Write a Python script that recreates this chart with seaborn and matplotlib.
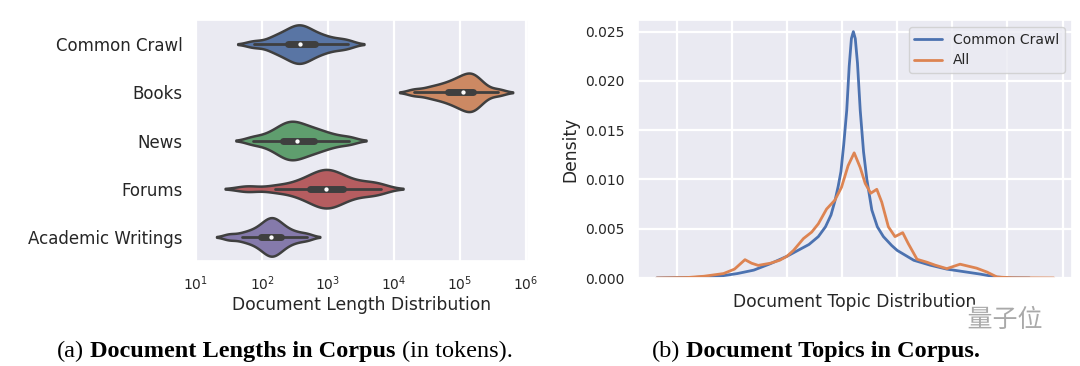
import numpy as np
import pandas as pd
import matplotlib
matplotlib.use("Agg")
import matplotlib.pyplot as plt
import matplotlib.patheffects as pe
from matplotlib.transforms import IdentityTransform
import seaborn as sns

corpora = ["Common Crawl", "Books", "News", "Forums", "Academic Writings"]

# document lengths in tokens, read off the violins as rough quantiles
len_common_crawl = [75, 130, 165, 200, 235, 270, 300, 330, 365, 400, 440, 490, 560, 660, 800, 1000, 1400, 2000]
len_books = [20000, 31600, 41700, 52500, 63100, 74100, 85100, 95500, 107000, 117500,
             129000, 141000, 151000, 162000, 178000, 200000, 240000, 380000]
len_news = [72, 112, 148, 178, 204, 229, 257, 282, 316, 355, 398, 457, 537, 631, 759, 955, 1320, 2100]
len_forums = [60, 158, 282, 398, 501, 603, 708, 794, 891, 1000, 1122, 1259, 1479, 1778, 2239, 3162, 4500, 6300]
len_academic = [32, 50, 66, 80, 94, 105, 115, 124, 133, 142, 152, 163, 178, 196, 222, 265, 340, 480]

# topic density curves (topic axis has no labels in the original)
topic_x_cc = [-0.36, 0.3, 0.8, 1.1, 1.4, 1.7, 2.0, 2.2, 2.4, 2.57, 2.7, 2.8, 2.87, 2.93, 2.98,
              3.03, 3.085, 3.13, 3.17, 3.205, 3.24, 3.28, 3.33, 3.39, 3.45, 3.54, 3.64, 3.75,
              3.9, 4.0, 4.3, 4.6, 4.9, 5.2, 5.5, 5.8, 6.0, 6.4]
density_cc = [0.0, 0.00005, 0.0002, 0.00045, 0.0008, 0.00145, 0.0022, 0.0028, 0.0034, 0.0042,
              0.0052, 0.0064, 0.0078, 0.0093, 0.0108, 0.0135, 0.017, 0.0215, 0.0243, 0.0250,
              0.0243, 0.0218, 0.017, 0.0128, 0.0100, 0.0069, 0.0052, 0.0042, 0.0033, 0.0028,
              0.0018, 0.0013, 0.0009, 0.00065, 0.0004, 0.0001, 0.00002, 0.0]
topic_x_all = [-0.36, 0.2, 0.5, 0.85, 1.05, 1.24, 1.36, 1.48, 1.7, 1.87, 2.0, 2.12, 2.30, 2.45,
               2.57, 2.72, 2.87, 2.99, 3.11, 3.22, 3.33, 3.42, 3.52, 3.63, 3.72, 3.84, 3.96,
               4.10, 4.20, 4.36, 4.54, 4.69, 4.90, 5.14, 5.44, 5.63, 5.81, 6.1, 6.84]
density_all = [0.0, 0.00005, 0.00018, 0.00045, 0.0009, 0.00186, 0.0015, 0.00128, 0.0015, 0.0018,
               0.0022, 0.0028, 0.0040, 0.00466, 0.0055, 0.0070, 0.0079, 0.0092, 0.0114, 0.0127,
               0.0112, 0.0096, 0.0086, 0.0090, 0.0077, 0.0052, 0.0042, 0.0046, 0.0035, 0.0019,
               0.0016, 0.0013, 0.00095, 0.0014, 0.0010, 0.0006, 0.0001, 0.00002, 0.0]

sns.set_theme(style="darkgrid", rc={"grid.linewidth": 1.6})
plt.rcParams["font.family"] = ["DejaVu Sans", "Noto Sans CJK SC"]

fig = plt.figure(figsize=(10.8, 3.66), dpi=100)
ax1 = fig.add_axes([196 / 1080, 1 - 261 / 366, 332 / 1080, 241 / 366])
ax2 = fig.add_axes([638 / 1080, 1 - 278 / 366, 434 / 1080, 258 / 366])

# (a) document lengths
lengths = [len_common_crawl, len_books, len_news, len_forums, len_academic]
df = pd.DataFrame({
    "corpus": np.repeat(corpora, [len(v) for v in lengths]),
    "length": np.concatenate(lengths),
})
sns.violinplot(data=df, x="length", y="corpus", hue="corpus", order=corpora, hue_order=corpora,
               palette="deep", legend=False, log_scale=True, density_norm="width",
               bw_adjust=0.6, width=0.8, linewidth=1.8, linecolor="#3f3f3f",
               inner_kws=dict(box_width=5, whis_width=2, marker="."), ax=ax1)
ax1.set_xlim(10, 1.07e6)
ax1.set_ylabel("")
ax1.set_xlabel("Document Length Distribution", fontsize=12.3, labelpad=2)
ax1.tick_params(axis="y", labelsize=12)
ax1.tick_params(axis="x", labelsize=10)

# (b) document topics
pal = sns.color_palette("deep")
sns.lineplot(x=topic_x_cc, y=density_cc, color=pal[0], linewidth=2, label="Common Crawl", ax=ax2)
sns.lineplot(x=topic_x_all, y=density_all, color=pal[1], linewidth=2, label="All", ax=ax2)
ax2.set_xlim(-0.70, 7.17)
ax2.set_ylim(0, 0.02618)
ax2.set_xticks(range(8))
ax2.set_xticklabels([])
ax2.set_yticks([0, 0.005, 0.01, 0.015, 0.02, 0.025])
ax2.set_yticklabels(["0.000", "0.005", "0.010", "0.015", "0.020", "0.025"])
ax2.tick_params(axis="y", labelsize=10)
ax2.set_xlabel("Document Topic Distribution", fontsize=12.3, labelpad=1)
ax2.set_ylabel("Density", fontsize=12.3)
ax2.legend(loc="upper right", fontsize=10)

# captions under each panel, mixed regular / bold serif text
renderer = fig.canvas.get_renderer()


def caption(x, y, parts, size=17.5):
    for s, w in parts:
        t = fig.text(x, y, s, fontsize=size, fontweight=w, family="Liberation Serif",
                     color="black", va="baseline", transform=IdentityTransform())
        x += t.get_window_extent(renderer).width + size * 0.25 * 100 / 72


caption(57, 9, [("(a)", "normal"), ("Document Lengths in Corpus", "bold"), ("(in tokens).", "normal")])
caption(652, 9, [("(b)", "normal"), ("Document Topics in Corpus.", "bold")])

fig.text(1005, 46, "量子位", fontsize=18, family=["Noto Sans CJK SC"], color="#a9a9a9",
         ha="center", va="center", transform=IdentityTransform(),
         path_effects=[pe.withStroke(linewidth=3, foreground="white")])

fig.savefig("out.png", dpi=100)
